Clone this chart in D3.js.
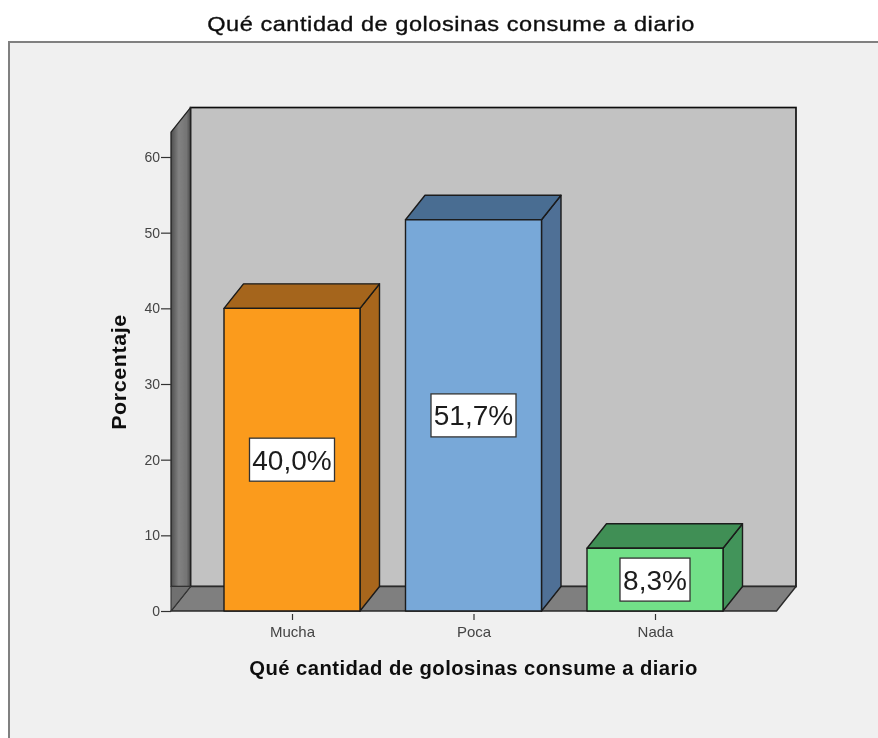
<!DOCTYPE html>
<html><head><meta charset="utf-8">
<script src="https://cdnjs.cloudflare.com/ajax/libs/d3/7.8.5/d3.min.js"></script>
<style>html,body{margin:0;padding:0;background:#fff}svg{display:block}text{font-family:"Liberation Sans",Arial,sans-serif}</style>
</head><body><div id="chart"></div>
<script>
const categories = ["Mucha", "Poca", "Nada"];
const values = [40.0, 51.7, 8.3];
const valueLabels = ["40,0%", "51,7%", "8,3%"];
const yTicks = [0, 10, 20, 30, 40, 50, 60];
const frontColors = ["#fb9b1e", "#78a8d8", "#72e088"];
const topColors = ["#a5651a", "#4a6d92", "#3f8f55"];
const sideColors = ["#a8661a", "#4f7096", "#43945a"];
const chartTitle = "Qué cantidad de golosinas consume a diario";
const yTitle = "Porcentaje";

const W = 878, H = 738;
const dx = 19.5, dy = -24.5;
const barW = 136;
const y = d3.scaleLinear().domain([0, 60]).range([611, 157]);
const x = d3.scalePoint().domain(categories).range([292, 655]);
const xL = 171, xR = 776.5, yTopFront = y(63.3), y0 = y(0);

const svg = d3.select("#chart").append("svg").attr("width", W).attr("height", H);
const defs = svg.append("defs");
const soft = defs.append("filter").attr("id", "soft").attr("x", "-2%").attr("y", "-2%").attr("width", "104%").attr("height", "104%");
soft.append("feGaussianBlur").attr("stdDeviation", 0.55);
const wg = defs.append("linearGradient").attr("id", "wall");
[[0, "#4e4e4e"], [0.4, "#828282"], [0.8, "#747474"], [1, "#4c4c4c"]].forEach(s => wg.append("stop").attr("offset", s[0]).attr("stop-color", s[1]));

const root = svg.append("g").attr("filter", "url(#soft)");
root.append("rect").attr("x", 9).attr("y", 42).attr("width", W).attr("height", H).attr("fill", "#f0f0f0").attr("stroke", "#808080").attr("stroke-width", 2);

root.append("text").attr("transform", "translate(451,31) scale(1.15,1)").attr("text-anchor", "middle").attr("font-size", 20.5).attr("letter-spacing", 0.47).attr("fill", "#111").attr("stroke", "#111").attr("stroke-width", 0.35).text(chartTitle);

const poly = (pts, fill, stroke = "#1a1a1a", sw = 1.4) => root.append("polygon")
  .attr("points", pts.map(p => p.join(",")).join(" ")).attr("fill", fill).attr("stroke", stroke).attr("stroke-width", sw).attr("stroke-linejoin", "round");

// back wall
root.append("rect").attr("x", xL + dx).attr("y", yTopFront + dy).attr("width", xR - xL).attr("height", y0 - yTopFront)
  .attr("fill", "#c2c2c2").attr("stroke", "#111").attr("stroke-width", 1.7);
// floor
poly([[xL, y0], [xL + dx, y0 + dy], [xR + dx, y0 + dy], [xR, y0]], "#7f7f7f", "#2a2a2a");
// left wall
poly([[xL, yTopFront], [xL + dx, yTopFront + dy], [xL + dx, y0 + dy], [xL, y0 + dy]], "url(#wall)", "#222", 1.3);
// corner below the left wall
poly([[xL, y0 + dy], [xL + dx, y0 + dy], [xL, y0]], "#707070", "#333", 1.1);

// y axis
const yAxis = d3.axisLeft(y).tickValues(yTicks).tickSize(10).tickPadding(1);
const gy = root.append("g").attr("transform", `translate(${xL},0)`).call(yAxis);
gy.select(".domain").remove();
gy.selectAll("line").attr("stroke", "#333").attr("stroke-width", 1.2);
gy.selectAll("text").attr("font-size", 14).attr("fill", "#444").style("font-family", '"Liberation Sans",Arial,sans-serif');

// bars
categories.forEach((c, i) => {
  const l = x(c) - barW / 2, r = l + barW, t = y(values[i]);
  poly([[r, t], [r + dx, t + dy], [r + dx, y0 + dy], [r, y0]], sideColors[i]);
  poly([[l, t], [l + dx, t + dy], [r + dx, t + dy], [r, t]], topColors[i]);
  poly([[l, t], [r, t], [r, y0], [l, y0]], frontColors[i]);
  const my = (t + y0) / 2;
  const bw = valueLabels[i].length > 4 ? 85 : 70, bh = 43;
  root.append("rect").attr("x", x(c) - bw / 2).attr("y", my - bh / 2).attr("width", bw).attr("height", bh)
    .attr("fill", "#fff").attr("stroke", "#333").attr("stroke-width", 1.3);
  root.append("text").attr("x", x(c)).attr("y", my + 10).attr("text-anchor", "middle").attr("font-size", 28).attr("fill", "#1a1a1a").text(valueLabels[i]);
});

// x axis
const gx = root.append("g").attr("transform", `translate(0,${y0 + 3})`).call(d3.axisBottom(x).tickSize(6).tickPadding(6));
gx.select(".domain").remove();
gx.selectAll("line").attr("stroke", "#333").attr("stroke-width", 1.2);
gx.selectAll("text").attr("font-size", 15).attr("fill", "#444").style("font-family", '"Liberation Sans",Arial,sans-serif');

// axis titles
root.append("text").attr("transform", "translate(473.5,675) scale(1.04,1)").attr("text-anchor", "middle").attr("font-size", 19.5).attr("font-weight", "bold").attr("letter-spacing", 0.42).attr("fill", "#111").text(chartTitle);
root.append("text").attr("transform", "translate(126,372) rotate(-90) scale(1.1,1)").attr("text-anchor", "middle").attr("font-size", 19.5).attr("font-weight", "bold").attr("letter-spacing", 0.55).attr("fill", "#111").text(yTitle);
</script></body></html>
